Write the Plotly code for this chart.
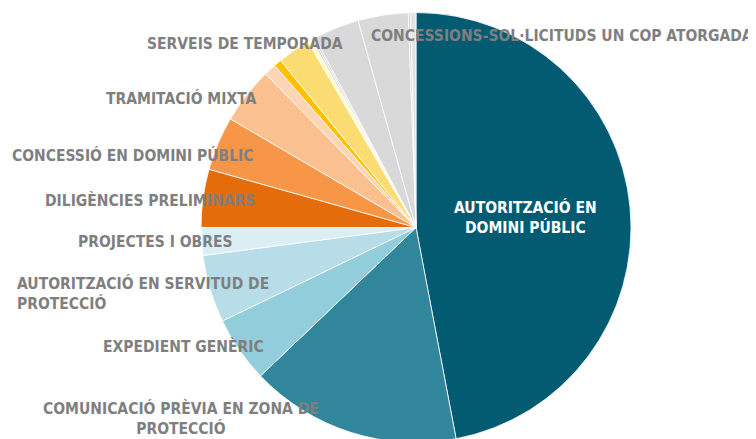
import plotly.graph_objects as go

W, H = 756, 439
OFF = 8  # page body margin offset in the browser

categories = [
    "AUTORITZACIÓ EN DOMINI PÚBLIC",
    "COMUNICACIÓ PRÈVIA EN ZONA DE PROTECCIÓ",
    "EXPEDIENT GENÈRIC",
    "AUTORITZACIÓ EN SERVITUD DE PROTECCIÓ",
    "PROJECTES I OBRES",
    "DILIGÈNCIES PRELIMINARS",
    "CONCESSIÓ EN DOMINI PÚBLIC",
    "TRAMITACIÓ MIXTA",
    "ALTRES 1",
    "ALTRES 2",
    "SERVEIS DE TEMPORADA",
    "ALTRES 3",
    "ALTRES 4",
    "ALTRES 5",
    "ALTRES 6",
    "ALTRES 7",
    "ALTRES 8",
    "CONCESSIONS-SOL·LICITUDS UN COP ATORGADA",
]
values = [47.0, 15.85, 4.97, 5.08, 2.08, 4.36, 4.06, 4.25, 0.9, 0.59,
          2.46, 0.3, 0.15, 0.15, 3.43, 3.77, 0.17, 0.4]
colors = ["#035B72", "#31869B", "#92CDDC", "#B7DEE8", "#DAEEF3",
          "#E46C0A", "#F79646", "#FAC090", "#FCD5B4", "#FFC000",
          "#FADC72", "#FFFFCC", "#D0D0D0", "#D9D9D9", "#D9D9D9",
          "#D9D9D9", "#D0D0D0", "#E3E3E3"]

# label text, screen pixel centre (x, y from top), anchor, colour
label_specs = [
    ("CONCESSIONS-SOL·LICITUDS UN COP ATORGADA", 562, 36, "center", "#7F7F7F"),
    ("SERVEIS DE TEMPORADA", 245, 44, "center", "#7F7F7F"),
    ("TRAMITACIÓ MIXTA", 181, 98, "center", "#7F7F7F"),
    ("CONCESSIÓ EN DOMINI PÚBLIC", 133, 155, "center", "#7F7F7F"),
    ("DILIGÈNCIES PRELIMINARS", 150, 200, "center", "#7F7F7F"),
    ("PROJECTES I OBRES", 155, 242, "center", "#7F7F7F"),
    ("AUTORITZACIÓ EN SERVITUD DE<br>PROTECCIÓ", 15, 293, "left", "#7F7F7F"),
    ("EXPEDIENT GENÈRIC", 183, 346, "center", "#7F7F7F"),
    ("COMUNICACIÓ PRÈVIA EN ZONA DE<br>PROTECCIÓ", 181, 418, "center", "#7F7F7F"),
    ("AUTORITZACIÓ EN<br>DOMINI PÚBLIC", 525, 217, "center", "#FFFFFF"),
]

cx, cy, r = 416 - OFF, 226 - OFF, 215

fig = go.Figure(go.Pie(
    labels=categories,
    values=values,
    sort=False,
    direction="clockwise",
    rotation=0,
    marker=dict(colors=colors, line=dict(color="#FFFFFF", width=0.8)),
    textinfo="none",
    hoverinfo="label+percent",
    showlegend=False,
    domain=dict(x=[(cx - r) / W, (cx + r) / W], y=[0, min(1.0, (2 * (H - cy)) / H)]),
))

annotations = []
for text, px, py, anchor, col in label_specs:
    annotations.append(dict(
        text=text, x=(px - OFF) / W, y=1 - (py - OFF) / H, xref="paper", yref="paper",
        xanchor=anchor, yanchor="middle", align=anchor,
        showarrow=False,
        font=dict(family="DejaVu Sans Condensed, Liberation Sans Narrow, sans-serif",
                  size=15.5, color=col, weight="bold"),
    ))

fig.update_layout(
    width=W, height=H,
    margin=dict(l=0, r=0, t=0, b=0),
    paper_bgcolor="#FFFFFF",
    plot_bgcolor="#FFFFFF",
    annotations=annotations,
)

fig.write_html("out.html")
